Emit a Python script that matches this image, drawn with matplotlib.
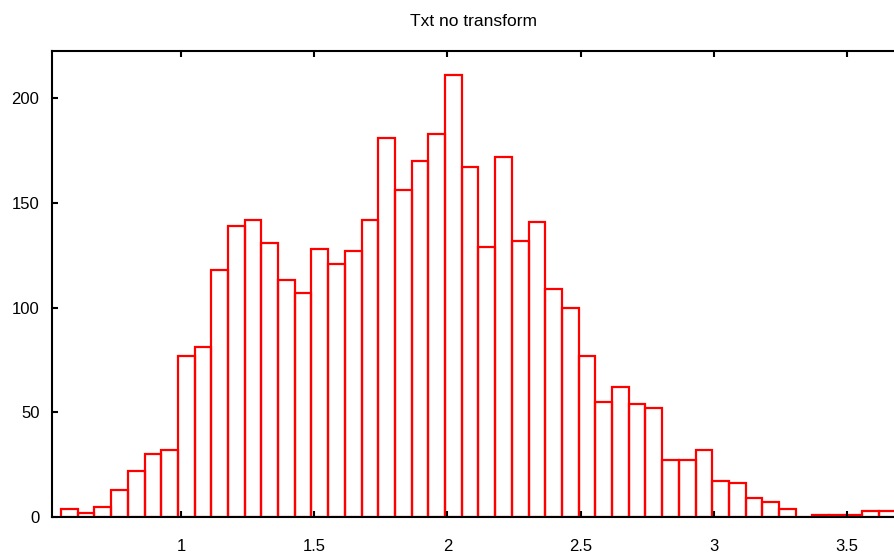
import numpy as np
import matplotlib.pyplot as plt

# histogram
bin_start = 0.549
bin_width = 0.0627
counts = [4, 2, 5, 13, 22, 30, 32, 77, 81, 118,
          139, 142, 131, 113, 107, 128, 121, 127, 142, 181,
          156, 170, 183, 211, 167, 129, 172, 132, 141, 109,
          100, 77, 55, 62, 54, 52, 27, 27, 32, 17,
          16, 9, 7, 4, 0, 1, 1, 1, 3, 3]
xticks = [1, 1.5, 2, 2.5, 3, 3.5]
xticklabels = ['1', '1.5', '2', '2.5', '3', '3.5']
yticks = [0, 50, 100, 150, 200]

plt.rcParams['font.family'] = ['Liberation Sans', 'DejaVu Sans']

fig = plt.figure(figsize=(8.94, 5.55), dpi=100)
ax = fig.add_axes([52 / 894, 38 / 555, 842 / 894, 466 / 555])

lefts = bin_start + bin_width * np.arange(len(counts))
ax.bar(lefts, counts, width=bin_width, align='edge', fill=False,
       edgecolor='red', linewidth=1.6)

ax.set_xlim(0.515, 3.677)
ax.set_ylim(0, 222.5)
ax.set_xticks(xticks)
ax.set_xticklabels(xticklabels)
ax.set_yticks(yticks)

for s in ['left', 'top', 'bottom']:
    ax.spines[s].set_linewidth(1.5)
ax.spines['right'].set_visible(False)

ax.tick_params(axis='x', direction='in', top=True, length=4, width=1.5,
               pad=16, labelsize=12)
ax.tick_params(axis='y', direction='in', length=4, width=1.5,
               pad=9, labelsize=12)

ax.set_title('Txt no transform', fontsize=12.5, pad=18)

fig.savefig('out.png', dpi=100)
